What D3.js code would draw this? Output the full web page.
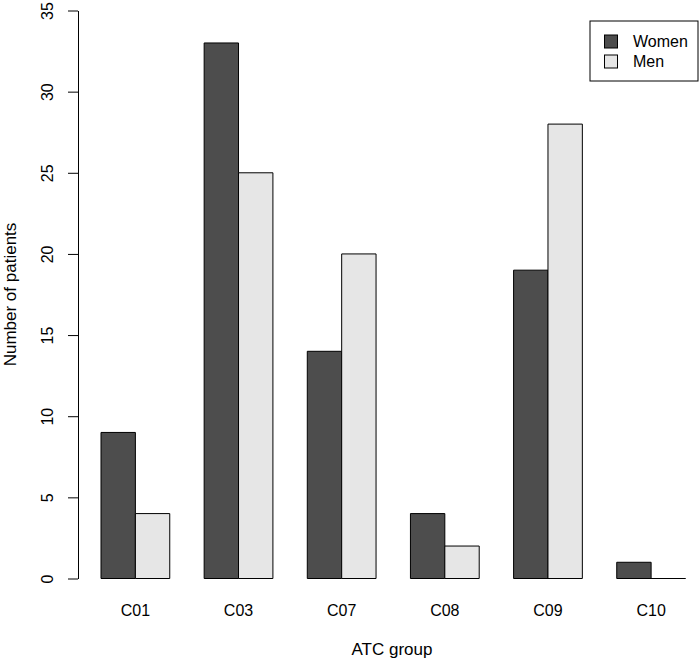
<!DOCTYPE html>
<html><head><meta charset="utf-8">
<script src="https://cdn.jsdelivr.net/npm/d3@7"></script>
<style>body{margin:0;background:#fff}svg{display:block;font-family:"Liberation Sans",Arial,sans-serif}</style>
</head><body><svg id="c" width="700" height="661"></svg>
<script>
const categories = ["C01","C03","C07","C08","C09","C10"];
const women = [9,33,14,4,19,1];
const men = [4,25,20,2,28,0];
const seriesNames = ["Women","Men"];
const yTicks = [0,5,10,15,20,25,30,35];

const colors = ["#4d4d4d","#e6e6e6"];
const svg = d3.select("#c");
const x = d3.scaleLinear().domain([1,18]).range([101,685.5]);
const y = d3.scaleLinear().domain([0,35]).range([578.5,10.5]);
const series = [women, men];

categories.forEach((c,i)=>{
  series.forEach((s,j)=>{
    const l = 1 + i*3 + j;
    const x0 = x(l), x1 = x(l+1), y0 = y(0), y1 = y(s[i]);
    svg.append("path")
      .attr("d", `M${x0},${y0}H${x1}V${y1}H${x0}Z`)
      .attr("fill", colors[j]).attr("stroke","#000").attr("stroke-width",1);
  });
  svg.append("text").attr("x", x(2+i*3)).attr("y", 616)
    .attr("text-anchor","middle").attr("font-size",16).attr("fill","#000").text(c);
});

const ax = svg.append("g").attr("transform","translate(78,0)")
  .call(d3.axisLeft(y).tickValues(yTicks).tickSize(10).tickSizeOuter(0));
ax.select(".domain").attr("stroke","#000");
ax.selectAll(".tick line").attr("stroke","#000");
ax.selectAll(".tick text").attr("font-size",16).attr("font-family","Liberation Sans, Arial, sans-serif")
  .attr("fill","#000").attr("x",0).attr("y",0).attr("dy",0)
  .attr("text-anchor","middle")
  .attr("transform","translate(-25,0) rotate(-90)");

svg.append("text").attr("x",392).attr("y",655).attr("text-anchor","middle")
  .attr("font-size",17).text("ATC group");
svg.append("text").attr("transform","translate(15.5,294.5) rotate(-90)")
  .attr("text-anchor","middle").attr("font-size",17).text("Number of patients");

const lg = svg.append("g");
lg.append("rect").attr("x",590).attr("y",21).attr("width",108).attr("height",60)
  .attr("fill","#fff").attr("stroke","#000");
seriesNames.forEach((n,j)=>{
  lg.append("rect").attr("x",604.5).attr("y",35+j*20).attr("width",13).attr("height",13)
    .attr("fill",colors[j]).attr("stroke","#000");
  lg.append("text").attr("x",633).attr("y",47+j*20).attr("font-size",16).text(n);
});
</script></body></html>
